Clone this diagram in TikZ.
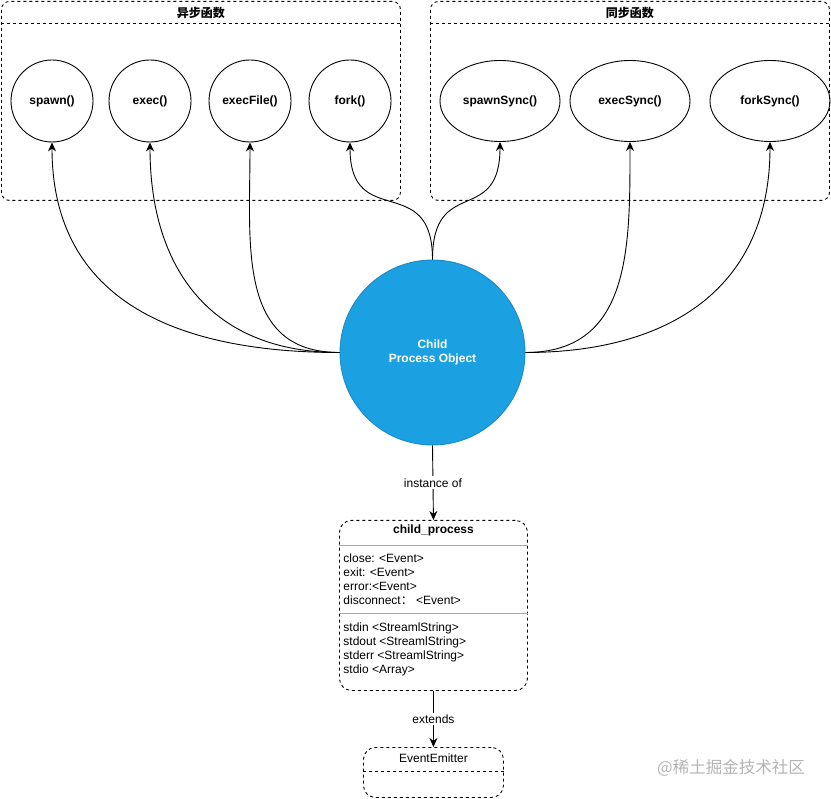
\documentclass[tikz,border=0pt]{standalone}
\usepackage{fontspec}
\setmainfont{Liberation Sans}
\newfontfamily\cjk{Noto Sans CJK SC}
\usetikzlibrary{arrows.meta, positioning, calc, shapes.geometric}
\definecolor{cpblue}{HTML}{1BA1E2}
\definecolor{cpborder}{HTML}{1A8CC8}
\definecolor{sepgray}{HTML}{A8A8A8}
\definecolor{markgray}{HTML}{B4B4B4}

\begin{document}
\begin{tikzpicture}[
    x=1pt, y=1pt, line width=0.9pt,
    font=\fontsize{12}{14}\selectfont,
    group/.style={
        rectangle, draw, dash pattern=on 3pt off 3pt,
        rounded corners=8pt, minimum width=399pt,
        minimum height=199pt, anchor=north west
    },
    fn/.style={
        circle, draw, minimum size=82pt, inner sep=0pt,
        font=\fontsize{12}{14}\selectfont\bfseries
    },
    fnsync/.style={
        ellipse, draw, minimum width=120pt, minimum height=81pt,
        inner sep=0pt, font=\fontsize{12}{14}\selectfont\bfseries
    },
    obj/.style={
        circle, fill=cpblue, draw=cpborder, minimum size=185pt,
        inner sep=0pt, text=white, align=center,
        font=\fontsize{12}{14}\selectfont\bfseries
    },
    classbox/.style={
        rectangle, draw, dash pattern=on 3pt off 3pt,
        rounded corners=12pt, anchor=north west
    },
    arr/.style={-{Stealth[length=9pt, width=8pt]}, line width=0.9pt},
    lbl/.style={fill=white, inner sep=2pt}
]
\useasboundingbox (0,0) rectangle (831,-799);

% --- Function groups ---
\node[group] (async) at (1,-1) {};
\node[font=\cjk\bfseries\fontsize{12}{14}\selectfont, below=2pt of async.north]
      (asynctitle) {异步函数};
\draw[dash pattern=on 3pt off 3pt] ($(async.north west)+(0,-22)$)
      -- ($(async.north east)+(0,-22)$);
\node[group] (sync) at (430,-1) {};
\node[font=\cjk\bfseries\fontsize{12}{14}\selectfont, below=2pt of sync.north]
      (synctitle) {同步函数};
\draw[dash pattern=on 3pt off 3pt] ($(sync.north west)+(0,-22)$)
      -- ($(sync.north east)+(0,-22)$);

\node[fn] (spawn) at (52,-101) {spawn()};
\node[fn] (exec) at (150,-101) {exec()};
\node[fn] (execfile) at (250,-101) {execFile()};
\node[fn] (fork) at (350,-101) {fork()};
\node[fnsync] (spawnsync) at (500,-101) {spawnSync()};
\node[fnsync] (execsync) at (630,-101) {execSync()};
\node[fnsync] (forksync) at (770,-101) {forkSync()};

% --- Child process object ---
\node[obj] (cpo) at (432.5,-352.5) {Child\\Process Object};

% --- child_process class ---
\node[classbox, minimum width=188pt, minimum height=170pt] (cp) at (339,-520) {};
\node[font=\fontsize{12}{14}\selectfont\bfseries, below=1pt of cp.north]
      (cptitle) {child\_process};
\draw[sepgray] ($(cp.north west)+(0,-25)$) -- ($(cp.north east)+(0,-25)$);
\node[align=left, anchor=north west, inner sep=0pt] (events)
      at ($(cp.north west)+(4,-33)$)
      {close: <Event>\\exit: <Event>\\error:<Event>\\disconnect{\cjk ：} <Event>};
\draw[sepgray] ($(cp.north west)+(0,-93)$) -- ($(cp.north east)+(0,-93)$);
\node[align=left, anchor=north west, inner sep=0pt] (streams)
      at ($(cp.north west)+(4,-102)$)
      {stdin <StreamlString>\\stdout <StreamlString>\\stderr <StreamlString>\\stdio <Array>};

% --- EventEmitter ---
\node[classbox, minimum width=140pt, minimum height=50pt] (ee) at (363,-747) {};
\node[below=3pt of ee.north] (eetitle) {EventEmitter};
\draw[dash pattern=on 3pt off 3pt] ($(ee.north west)+(0,-24)$)
      -- ($(ee.north east)+(0,-24)$);

\node[text=markgray, font=\cjk\fontsize{16.5}{18}\selectfont] (mark)
      at (731,-768) {@稀土掘金技术社区};

% --- Arrows ---
\draw[arr] (cpo.west) to[out=180, in=-90, looseness=1.15] (spawn.south);
\draw[arr] (cpo.west) to[out=180, in=-90, looseness=1.15] (exec.south);
\draw[arr] (cpo.west) to[out=180, in=-90, looseness=1.15] (execfile.south);
\draw[arr] (cpo.north) to[out=90, in=-90, looseness=1.6] (fork.south);
\draw[arr] (cpo.north) to[out=90, in=-90, looseness=1.6] (spawnsync.south);
\draw[arr] (cpo.east) to[out=0, in=-90, looseness=1.15] (execsync.south);
\draw[arr] (cpo.east) to[out=0, in=-90, looseness=1.15] (forksync.south);
\draw[arr] (cpo.south) -- node[lbl] {instance of} (cp.north);
\draw[arr] (cp.south) -- node[lbl] {extends} (ee.north);
\end{tikzpicture}
\end{document}
